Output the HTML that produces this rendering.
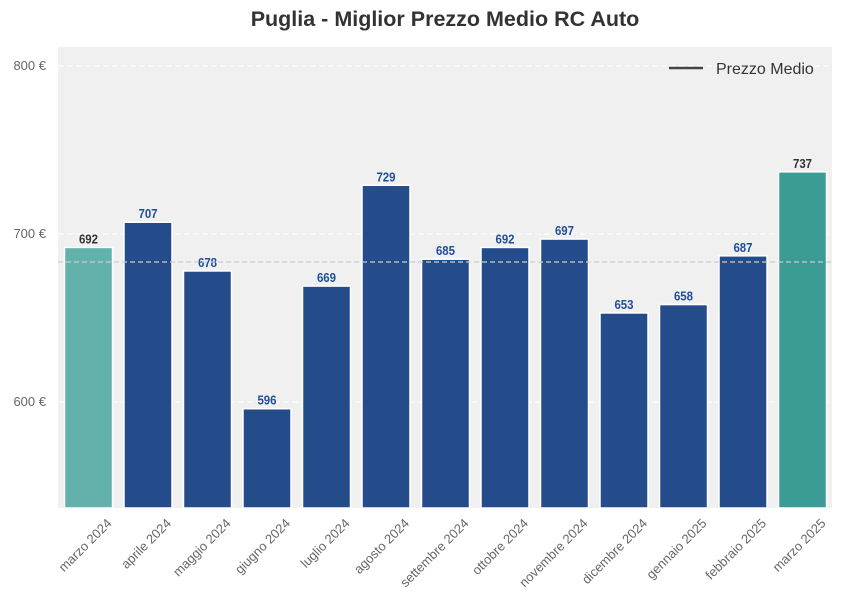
<!DOCTYPE html>
<html><head><meta charset="utf-8"><style>body{margin:0;background:#fff}svg{display:block;font-family:"Liberation Sans",sans-serif}</style></head>
<body>
<svg width="843" height="610" xmlns="http://www.w3.org/2000/svg">
<text x="445" y="26" text-anchor="middle" font-size="21.5" font-weight="bold" fill="#333">Puglia - Miglior Prezzo Medio RC Auto</text>
<rect x="58" y="47" width="774" height="461" fill="#f0f0f0"/>
<g stroke="#fff" stroke-dasharray="6,3" stroke-width="1">
<line x1="58" x2="832" y1="66" y2="66"/><line x1="58" x2="832" y1="234" y2="234"/><line x1="58" x2="832" y1="402" y2="402"/>
</g>
<g font-size="13" fill="#666" text-anchor="end">
<text x="46" y="70">800 €</text><text x="46" y="238">700 €</text><text x="46" y="406">600 €</text>
</g>
<g id="bars"></g>
<line x1="58" x2="832" y1="262" y2="262" stroke="#ccc" stroke-dasharray="5,3" stroke-width="1.2"/>
<line x1="669" x2="703" y1="68" y2="68" stroke="#444" stroke-width="2.5"/>
<text x="716" y="74" font-size="16" fill="#333">Prezzo Medio</text>
<g id="lab"></g>
</svg>
<script>
var v=[692,707,678,596,669,729,685,692,697,653,658,687,737];
var m=["marzo 2024","aprile 2024","maggio 2024","giugno 2024","luglio 2024","agosto 2024","settembre 2024","ottobre 2024","novembre 2024","dicembre 2024","gennaio 2025","febbraio 2025","marzo 2025"];
var b="",l="";
for(var i=0;i<13;i++){var c=88.5+i*59.5,y=234-(v[i]-700)*1.68;
var col=i==0?"#62b1aa":(i==12?"#3b9c95":"#244c8a");
b+='<rect x="'+(c-24)+'" y="'+y+'" width="48" height="'+(508-y)+'" fill="'+col+'" stroke="#fff" stroke-width="1.5"/>';
b+='<text x="'+c+'" y="'+(y-4)+'" text-anchor="middle" font-size="13" font-weight="bold" fill="'+(i==0||i==12?"#333":"#1f4e9a")+'" transform="translate('+(c*0.12)+',0) scale(0.88,1)">'+v[i]+'</text>';
l+='<text transform="translate('+(c+24)+',524) rotate(-45)" text-anchor="end" font-size="13" fill="#666">'+m[i]+'</text>';}
document.getElementById("bars").innerHTML=b;document.getElementById("lab").innerHTML=l;
</script>
</body></html>
